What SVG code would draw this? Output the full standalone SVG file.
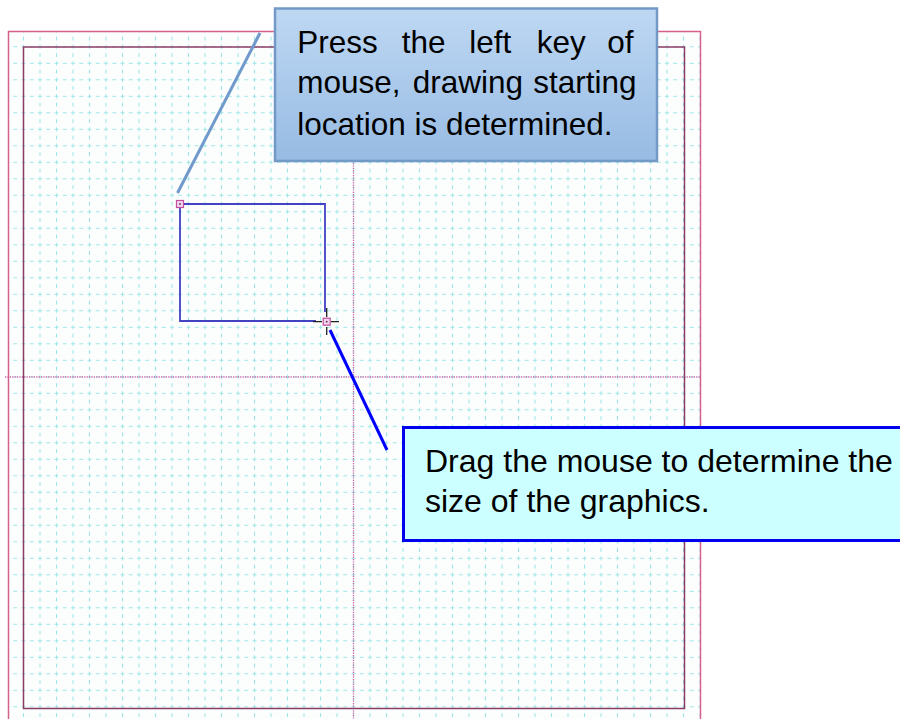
<svg xmlns="http://www.w3.org/2000/svg" width="900" height="719" viewBox="0 0 900 719">
  <style>
    .txt { font-family: "Liberation Sans", Arial, sans-serif; fill: #000; }
    .grid { stroke: #9ee6e6; stroke-width: 1.1; fill: none; }
    .handle { fill: #f2d4ee; stroke: #c2509e; stroke-width: 1.2; }
  </style>
  <defs>
    <pattern id="gridPat" patternUnits="userSpaceOnUse" x="-1.25" y="5.55" width="16.5" height="16.5">
      <path class="grid" d="M0,8.25 H2 M6.25,8.25 H10.25 M14.5,8.25 H16.5 M8.25,0 V2 M8.25,6.25 V10.25 M8.25,14.5 V16.5"/>
    </pattern>
    <linearGradient id="blueGrad" x1="0" y1="0" x2="0" y2="1">
      <stop offset="0" stop-color="#bed8f3"/>
      <stop offset="1" stop-color="#97bbe3"/>
    </linearGradient>
  </defs>
  <rect width="900" height="719" fill="#ffffff"/>
  <g id="sheet">
    <rect x="8" y="31" width="693" height="700" fill="#fcfdfd"/>
    <rect x="8" y="31" width="693" height="700" fill="url(#gridPat)"/>
    <line x1="353.5" y1="31" x2="353.5" y2="719" stroke="#d060a8" stroke-width="1.3" stroke-dasharray="1.2 1.2"/>
    <line x1="5" y1="377" x2="701" y2="377" stroke="#d060a8" stroke-width="1.3" stroke-dasharray="1.2 1.2"/>
    <rect x="8.5" y="31.5" width="692" height="700" fill="none" stroke="#d4608c" stroke-width="1.5"/>
    <rect x="23.5" y="47" width="661" height="661.5" fill="none" stroke="#8c3c64" stroke-width="1.5"/>
  </g>
  <g id="drawn-rect">
    <path d="M180,204 H325 V312 M316,321 H180 V204" fill="none" stroke="#4242c2" stroke-width="1.8"/>
    <rect class="handle" x="176.5" y="200.5" width="7" height="7"/>
    <circle cx="180" cy="204" r="0.9" fill="#6a2a5a"/>
  </g>
  <g id="cursor">
    <path d="M313,321.7 H322 M331,321.7 H339 M326.7,308 V317 M326.7,327 V335" stroke="#222" stroke-width="1.3" fill="none"/>
    <rect class="handle" x="323.2" y="318.2" width="7" height="7"/>
    <circle cx="326.7" cy="321.7" r="0.9" fill="#6a2a5a"/>
  </g>
  <g id="connectors">
    <line x1="260" y1="33" x2="177.5" y2="193" stroke="#6f9acb" stroke-width="3"/>
    <line x1="330" y1="330" x2="387" y2="450" stroke="#0000ff" stroke-width="3"/>
  </g>
  <g id="callout-press">
    <rect x="275" y="8.5" width="382" height="152.5" fill="url(#blueGrad)" stroke="#7399c6" stroke-width="2.5"/>
    <text class="txt" font-size="31.5" y="53.3"><tspan x="297.3">Press</tspan><tspan x="401.7">the</tspan><tspan x="469.3">left</tspan><tspan x="536.7">key</tspan><tspan x="607.3">of</tspan></text>
    <text class="txt" font-size="31.5" y="92.8"><tspan x="297.3">mouse,</tspan><tspan x="412.7">drawing</tspan><tspan x="533.3">starting</tspan></text>
    <text class="txt" font-size="31.5" x="297.3" y="135">location is determined.</text>
  </g>
  <g id="callout-drag">
    <rect x="403.5" y="427.5" width="500" height="113" fill="#ccffff" stroke="#0000ee" stroke-width="3"/>
    <text class="txt" font-size="32" x="425" y="471.7">Drag the mouse to determine the</text>
    <text class="txt" font-size="32" x="425" y="511.7">size of the graphics.</text>
  </g>
</svg>
